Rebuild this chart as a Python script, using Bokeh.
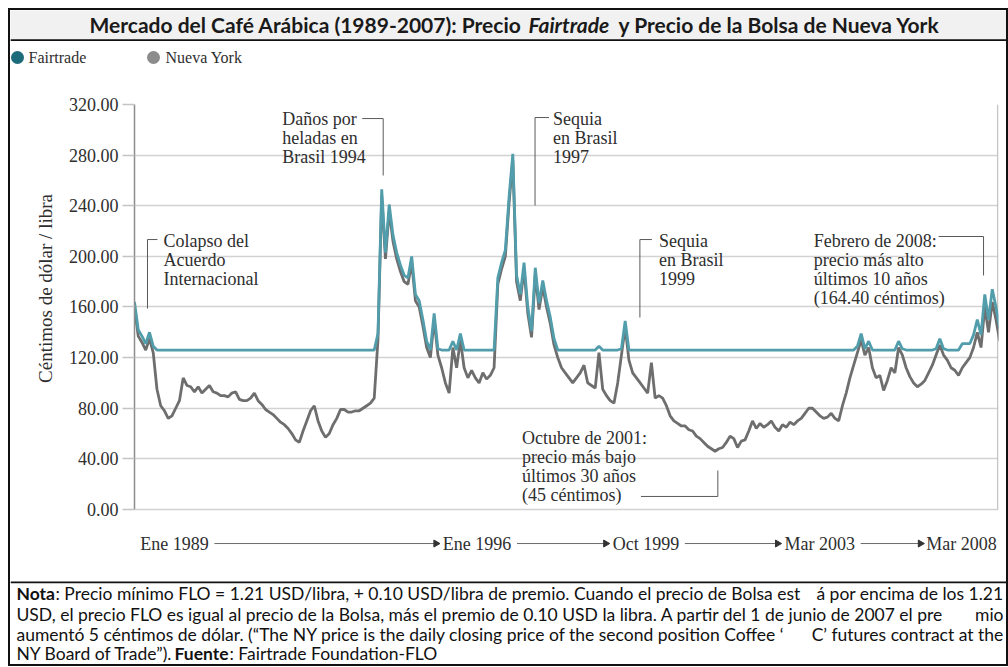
import numpy as np
from bokeh.plotting import figure
from bokeh.models import (ColumnDataSource, Range1d, FixedTicker, NumeralTickFormatter)
from bokeh.layouts import column, row
from bokeh.embed import file_html
from bokeh.resources import INLINE
from bokeh.core.properties import value

# ---------------- data (monthly, from January 1989) ----------------
anio_inicio = 1989
nueva_york = [
    159, 137, 132, 126, 135, 124, 95, 82, 78, 72, 74, 80,          # 1989
    86, 104, 98, 97, 93, 97, 92, 95, 98, 93, 92, 90,               # 1990
    90, 89, 92, 93, 87, 86, 86, 88, 92, 86, 83, 79,                # 1991
    77, 75, 72, 69, 67, 64, 60, 55, 53, 62, 70, 78,                # 1992
    82, 70, 62, 57, 60, 67, 72, 79, 79, 77, 77, 78,                # 1993
    78, 80, 82, 84, 88, 134, 248, 198, 236, 212, 198, 188,         # 1994
    180, 178, 195, 165, 160, 145, 128, 120, 150, 122, 112, 100,    # 1995
    92, 128, 112, 134, 112, 104, 110, 104, 100, 108, 103, 106,     # 1996
    112, 178, 190, 200, 242, 276, 180, 165, 190, 155, 136, 186,    # 1997
    158, 176, 160, 147, 130, 120, 112, 108, 104, 100, 104, 108,    # 1998
    114, 100, 98, 96, 124, 95, 90, 86, 84, 100, 122, 144,          # 1999
    118, 108, 104, 100, 96, 92, 116, 88, 90, 88, 82, 74,           # 2000
    70, 68, 66, 66, 63, 62, 58, 56, 53, 50, 48, 46,                # 2001
    48, 49, 53, 58, 56, 49, 54, 55, 62, 70, 64, 68,                # 2002
    65, 67, 70, 65, 62, 67, 65, 69, 67, 70, 72, 76,                # 2003
    80, 80, 77, 74, 72, 73, 76, 72, 70, 82, 92, 104,               # 2004
    114, 124, 134, 122, 128, 112, 104, 106, 94, 102, 112, 108,     # 2005
    128, 122, 112, 105, 100, 97, 99, 102, 108, 114, 122, 130,      # 2006
    122, 118, 112, 110, 106, 112, 116, 120, 128, 140, 128, 160,    # 2007
    140, 164, 150, 133,                                            # 2008
]
fairtrade = [
    164, 142, 137, 131, 140, 129, 126, 126, 126, 126, 126, 126,    # 1989
    126, 126, 126, 126, 126, 126, 126, 126, 126, 126, 126, 126,    # 1990
    126, 126, 126, 126, 126, 126, 126, 126, 126, 126, 126, 126,    # 1991
    126, 126, 126, 126, 126, 126, 126, 126, 126, 126, 126, 126,    # 1992
    126, 126, 126, 126, 126, 126, 126, 126, 126, 126, 126, 126,    # 1993
    126, 126, 126, 126, 126, 139, 253, 203, 241, 217, 203, 193,    # 1994
    185, 183, 200, 170, 165, 150, 133, 126, 155, 127, 126, 126,    # 1995
    126, 133, 126, 139, 126, 126, 126, 126, 126, 126, 126, 126,    # 1996
    126, 183, 195, 205, 247, 281, 185, 170, 195, 160, 141, 191,    # 1997
    163, 181, 165, 152, 135, 126, 126, 126, 126, 126, 126, 126,    # 1998
    126, 126, 126, 126, 129, 126, 126, 126, 126, 126, 127, 149,    # 1999
    126, 126, 126, 126, 126, 126, 126, 126, 126, 126, 126, 126,    # 2000
    126, 126, 126, 126, 126, 126, 126, 126, 126, 126, 126, 126,    # 2001
    126, 126, 126, 126, 126, 126, 126, 126, 126, 126, 126, 126,    # 2002
    126, 126, 126, 126, 126, 126, 126, 126, 126, 126, 126, 126,    # 2003
    126, 126, 126, 126, 126, 126, 126, 126, 126, 126, 126, 126,    # 2004
    126, 129, 139, 127, 133, 126, 126, 126, 126, 126, 126, 126,    # 2005
    133, 127, 126, 126, 126, 126, 126, 126, 126, 126, 127, 135,    # 2006
    127, 126, 126, 126, 126, 131, 131, 131, 138, 150, 138, 170,    # 2007
    150, 174, 160, 143,                                            # 2008
]
series = ["Fairtrade", "Nueva York"]
etiquetas_x = ["Ene 1989", "Ene 1996", "Oct 1999", "Mar 2003", "Mar 2008"]
ticks_y = [0, 40, 80, 120, 160, 200, 240, 280, 320]
titulo_y = "Céntimos de dólar / libra"

fechas = [anio_inicio + i / 12 for i in range(len(nueva_york))]

# ---------------- styles ----------------
SERIF = "Liberation Serif"
SANS = "Lato"
C_TEAL = "#519dab"
C_GRAY = "#6e6e6e"
C_TEXT = "#2e2e2e"
W = 996


def bare_fig(w, h, fill="white"):
    f = figure(width=w, height=h, x_range=Range1d(0, w), y_range=Range1d(0, h),
               output_backend="svg", toolbar_location=None, min_border=0, frame_align=False,
               x_axis_location=None, y_axis_location=None, outline_line_color=None,
               background_fill_color=fill, border_fill_color=fill)
    f.grid.visible = False
    return f


# ---------------- title bar ----------------
t = bare_fig(W, 31, "#f1f1f1")
TK = dict(text_baseline="middle", text_font=value(SANS), text_font_size="21px",
          text_color="#1a1a1a")
t.text(x=[511], y=[17], text=["Mercado del Café Arábica (1989-2007): Precio"],
       text_align="right", text_font_style="bold", **TK)
t.text(x=[518], y=[17], text=["Fairtrade"], text_align="left",
       text_font_style="bold italic", **TK)
t.text(x=[608], y=[17], text=["y Precio de la Bolsa de Nueva York"], text_align="left",
       text_font_style="bold", **TK)
t.segment(x0=[0], y0=[1], x1=[W], y1=[1], line_color="#111111", line_width=2.5)

# ---------------- legend row ----------------
lg = bare_fig(W, 42)
lg.scatter(x=[7, 143], y=[26, 26], size=13, fill_color=["#1c6b7b", "#8c8c8c"],
           line_color=None)
lg.text(x=[18, 155], y=[26, 26], text=series, text_align="left", text_baseline="middle",
        text_font=value(SERIF), text_font_size="16px", text_color=C_TEXT)

# ---------------- y-axis title column ----------------
LW = 55
HM = 498
yl = bare_fig(LW, HM)
yl.text(x=[35], y=[293], text=[titulo_y], angle=np.pi / 2, text_align="center",
        text_baseline="middle", text_font=value(SERIF), text_font_size="19px",
        text_color=C_TEXT)

# ---------------- main chart ----------------
p = figure(width=W - LW, height=HM, x_range=Range1d(1989.0, 2008.222),
           y_range=Range1d(-56.89, 320),
           output_backend="svg", toolbar_location=None, frame_align=False,
           min_border_left=68, min_border_right=8, min_border_top=21, min_border_bottom=0,
           x_axis_location=None, background_fill_color="white", border_fill_color="white",
           outline_line_color=None)

yt = FixedTicker(ticks=ticks_y, minor_ticks=[])
p.yaxis.ticker = yt
p.yaxis.bounds = (0, 320)
p.ygrid.ticker = yt
p.yaxis.formatter = NumeralTickFormatter(format="0.00")
p.ygrid.grid_line_color = "#d2d2d2"
p.ygrid.grid_line_width = 1.5
p.xgrid.visible = False
p.yaxis.axis_line_color = "#8c8c8c"
p.yaxis.axis_line_width = 1.5
p.yaxis.major_tick_line_color = "#c4c4c4"
p.yaxis.major_tick_line_width = 1.5
p.yaxis.major_tick_out = 12
p.yaxis.major_tick_in = 0
p.yaxis.minor_tick_line_color = None
p.yaxis.major_label_standoff = 4
p.yaxis.major_label_text_font = SERIF
p.yaxis.major_label_text_font_size = "18px"
p.yaxis.major_label_text_color = C_TEXT

# right border of the plotting area
p.segment(x0=[2008.205], y0=[0], x1=[2008.205], y1=[320], line_color="#c4c4c4", line_width=1.5)

# time labels with arrows (row below the plotting area)
y_fila = -26.9
pos_x = [1989.889, 1996.622, 2000.378, 2004.244, 2007.40]
p.text(x=pos_x, y=[y_fila] * len(pos_x), text=etiquetas_x, text_align="center",
       text_baseline="middle", text_font=value(SERIF), text_font_size="18px",
       text_color=C_TEXT)
fl_ini = [1990.778, 1997.511, 2001.244, 2005.156]
fl_fin = [1995.756, 1999.533, 2003.356, 2006.533]
p.segment(x0=fl_ini, y0=[y_fila] * 4, x1=fl_fin, y1=[y_fila] * 4,
          line_color="#6a6a6a", line_width=1)
p.scatter(x=[v - 0.05 for v in fl_fin], y=[y_fila] * 4, marker="triangle", size=7,
          angle=-np.pi / 2, fill_color="#333333", line_color="#333333")

# series
p.line(fechas, nueva_york, line_color=C_GRAY, line_width=2.8)
p.line(fechas, fairtrade, line_color=C_TEAL, line_width=2.8)

# annotation texts
notas = [
    (1989.644, 212.5, "Colapso del"), (1989.644, 197.5, "Acuerdo"), (1989.644, 182.5, "Internacional"),
    (1992.289, 308.9, "Daños por"), (1992.289, 293.9, "heladas en"), (1992.289, 278.9, "Brasil 1994"),
    (1998.311, 308.9, "Sequia"), (1998.311, 293.9, "en Brasil"), (1998.311, 278.9, "1997"),
    (2000.667, 212.5, "Sequia"), (2000.667, 197.5, "en Brasil"), (2000.667, 182.5, "1999"),
    (2004.111, 212.5, "Febrero de 2008:"), (2004.111, 197.5, "precio más alto"),
    (2004.111, 182.5, "últimos 10 años"), (2004.111, 167.5, "(164.40 céntimos)"),
    (1997.622, 56.1, "Octubre de 2001:"), (1997.622, 41.1, "precio más bajo"),
    (1997.622, 26.1, "últimos 30 años"), (1997.622, 11.1, "(45 céntimos)"),
]
src_notas = ColumnDataSource(dict(x=[a[0] for a in notas], y=[a[1] for a in notas],
                                  text=[a[2] for a in notas]))
p.text(x="x", y="y", text="text", source=src_notas, text_align="left", text_baseline="middle",
       text_font=value(SERIF), text_font_size="18px", text_color=C_TEXT)

# leader brackets
lx = [[1989.511, 1989.289, 1989.289],
      [1994.067, 1994.533, 1994.533],
      [1998.222, 1997.911, 1997.911],
      [2000.511, 2000.244, 2000.244],
      [2006.889, 2007.889, 2007.889],
      [2000.267, 2001.978, 2001.978]]
ly = [[213.3, 213.3, 158.8],
      [308.9, 308.9, 263.9],
      [309.7, 309.7, 240.2],
      [213.3, 213.3, 151.7],
      [215.7, 215.7, 184.9],
      [10.3, 10.3, 30.8]]
p.multi_line(xs=lx, ys=ly, line_color="#5a5a5a", line_width=1)

# ---------------- note ----------------
NH = 83
n = bare_fig(W, NH)
n.segment(x0=[0], y0=[NH - 0.5], x1=[W], y1=[NH - 0.5], line_color="#111111", line_width=2.5)


def ntext(x, y, s, align="left", style="normal"):
    n.text(x=[x], y=[y], text=[s], text_align=align, text_baseline="middle",
           text_font=value(SANS), text_font_style=style, text_font_size="17.5px",
           text_color="#111111")


ntext(6, 71, "Nota", style="bold")
ntext(45, 71, ": Precio mínimo FLO = 1.21 USD/libra, + 0.10 USD/libra de premio. Cuando el precio de Bolsa est")
ntext(993, 71, "á por encima de los 1.21", align="right")
ntext(6, 50.5, "USD, el precio FLO es igual al precio de la Bolsa, más el premio de 0.10 USD la libra. A partir del 1 de junio de 2007 el pre")
ntext(993, 50.5, "mio", align="right")
ntext(6, 30.5, "aumentó 5 céntimos de dólar.  (“The NY price is the daily closing price of the second position Coffee ‘")
ntext(993, 30.5, "C’ futures contract at the", align="right")
ntext(6, 11.5, "NY Board of Trade”).")
ntext(164, 11.5, "Fuente", style="bold")
ntext(219, 11.5, ": Fairtrade Foundation-FLO")

layout = column(t, lg, row(yl, p), n, margin=(8, 0, 0, 8),
                styles={"border": "2px solid #111111"})

open("out.html", "w").write(file_html(layout, INLINE))
